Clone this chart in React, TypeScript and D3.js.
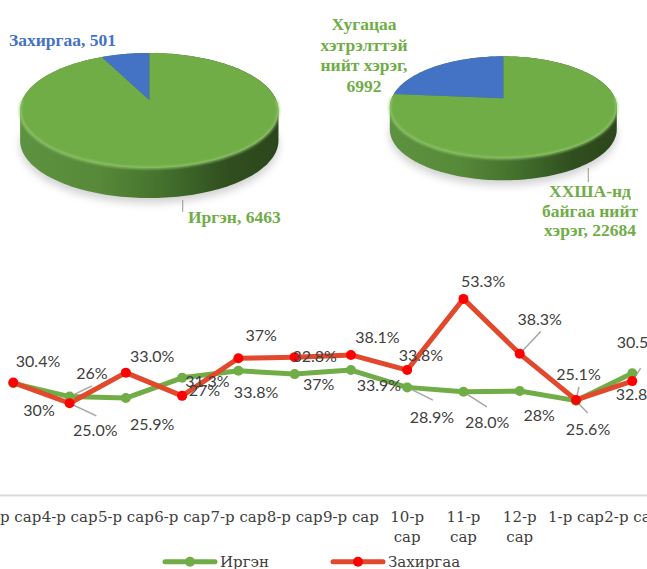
import React from 'react';
import * as d3 from 'd3';

// ---------- DATA ----------
const categories = ["3-р сар", "4-р сар", "5-р сар", "6-р сар", "7-р сар", "8-р сар", "9-р сар", "10-р сар", "11-р сар", "12-р сар", "1-р сар", "2-р сар"];
const irgenValues = [30.4, 26.8, 26.4, 31.9, 33.8, 32.9, 34.0, 29.3, 28.1, 28.3, 25.7, 33.1];
const zakhValues = [30.6, 25.0, 33.3, 27.0, 37.2, 37.5, 38.1, 34.0, 53.3, 38.4, 25.9, 31.0];
const irgenLabels = ["30%", "26%", "25.9%", "31.3%", "33.8%", "37%", "33.9%", "28.9%", "28.0%", "28%", "25.6%", "32.8%"];
const zakhLabels = ["30.4%", "25.0%", "33.0%", "27%", "37%", "32.8%", "38.1%", "33.8%", "53.3%", "38.3%", "25.1%", "30.5%"];
const seriesNames = ["Иргэн", "Захиргаа"];

const pieLeftNames = ["Иргэн", "Захиргаа"];
const pieLeftValues = [6463, 501];
const pieRightNames = ["ХХША-нд байгаа нийт хэрэг", "Хугацаа хэтрэлттэй нийт хэрэг"];
const pieRightValues = [22684, 6992];

// ---------- LAYOUT (label offsets relative to points) ----------
const irgenLabelPos: [number, number][] = [[25.7, 32.3], [22.4, -17.7], [26.3, 31.7], [25.3, 9.3], [17.7, 27.3], [24, 15.7], [28, 21], [24.7, 35.7], [23.7, 36.3], [19.5, 30], [12, 34.3], [5.7, 26.7]];
const irgenLeaders: ([number, number] | null)[] = [null, [22.4, -10.7], null, null, null, null, null, [25.7, 12.7], [23.4, 15], null, [11.7, 12.3], null];
const zakhLabelPos: [number, number][] = [[24.7, -15.7], [25.7, 32.7], [26.3, -10.7], [22.3, 0], [22.7, -17.3], [20, 4.7], [26.5, -12], [13.7, -9], [19.7, -12], [20, -29], [2.5, -20], [6.7, -33]];
const zakhLeaders: ([number, number] | null)[] = [null, [26.7, 12.7], null, null, null, null, null, null, null, [21, -22.3], [3, -13], [8.4, -13]];

const W = 647, H = 569;
const GREEN = "#70AD47";
const BLUE = "#4472C4";
const RED_LINE = "#E2482B";
const RED_MARK = "#FF0000";
const TXT = "#404040";
const LEADER = "#A6A6A6";

const x = d3.scaleBand<string>().domain(categories).range([-14.8, 660.4]).paddingInner(0).paddingOuter(0);
const cx = (c: string) => (x(c) as number) + x.bandwidth() / 2;
const y = d3.scaleLinear().domain([0, 60]).range([495.4, 274.2]);

type PieCfg = { cx: number; cy: number; R: number; Ry: number; d: number; h: number; id: string };

function projector(p: PieCfg) {
  return (theta: number, dy = 0): [number, number] => {
    const u = Math.sin(theta), w = -Math.cos(theta);
    const s = p.d / (p.d - w);
    return [p.cx + p.R * u * s, p.cy + p.Ry * w * s + dy];
  };
}

function Pie3D({ cfg, values, colors }: { cfg: PieCfg; values: number[]; colors: string[] }) {
  const proj = projector(cfg);
  const arcs = d3.pie<number>().sort(null).startAngle(0).endAngle(Math.PI * 2)(values);
  const N = 240;
  const topPts: [number, number][] = [];
  const botPts: [number, number][] = [];
  for (let i = 0; i < N; i++) {
    const t = (i / N) * Math.PI * 2;
    topPts.push(proj(t));
    botPts.push(proj(t, cfg.h));
  }
  const hull = d3.polygonHull([...topPts, ...botPts]) as [number, number][];
  const hullPath = "M" + hull.map(p => p.join(",")).join("L") + "Z";
  const slicePath = (a0: number, a1: number) => {
    const steps = Math.max(2, Math.ceil(((a1 - a0) / (Math.PI * 2)) * N));
    let s = `M${cfg.cx},${cfg.cy}`;
    for (let i = 0; i <= steps; i++) {
      const t = a0 + ((a1 - a0) * i) / steps;
      const [px, py] = proj(t);
      s += `L${px},${py}`;
    }
    return s + "Z";
  };
  let rim = "";
  for (let i = 0; i <= 120; i++) {
    const t = Math.PI / 2 + (Math.PI * i) / 120;
    const [px, py] = proj(t);
    rim += (i === 0 ? "M" : "L") + px + "," + py;
  }
  const shadowPts = botPts.map(([px, py]) => [px, py + 5]);
  const shadowPath = "M" + shadowPts.map(p => p.join(",")).join("L") + "Z";
  return (
    <g>
      <defs>
        <linearGradient id={`side-${cfg.id}`} x1="0" x2="1" y1="0" y2="0">
          <stop offset="0" stopColor="#5d9240" />
          <stop offset="0.3" stopColor="#578a38" />
          <stop offset="0.55" stopColor="#44712d" />
          <stop offset="0.8" stopColor="#304f1f" />
          <stop offset="1" stopColor="#2b461b" />
        </linearGradient>
        <filter id={`blur-${cfg.id}`} x="-20%" y="-20%" width="140%" height="140%">
          <feGaussianBlur stdDeviation="4" />
        </filter>
        <filter id={`rimblur-${cfg.id}`} x="-10%" y="-10%" width="120%" height="120%">
          <feGaussianBlur stdDeviation="1.2" />
        </filter>
      </defs>
      <path d={shadowPath} fill="#000" opacity={0.18} filter={`url(#blur-${cfg.id})`} />
      <path d={hullPath} fill={`url(#side-${cfg.id})`} />
      {arcs.map((a, i) => (
        <path key={i} d={slicePath(a.startAngle, a.endAngle)} fill={colors[i]} />
      ))}
      <path d={rim} fill="none" stroke="#9ccf78" strokeWidth={2.5} opacity={0.7} filter={`url(#rimblur-${cfg.id})`} />
    </g>
  );
}

const leftPie: PieCfg = { cx: 149.3, cy: 100, R: 127, Ry: 55.6, d: 5.47, h: 30, id: "l" };
const rightPie: PieCfg = { cx: 503.3, cy: 98.3, R: 111.7, Ry: 49.4, d: 5.67, h: 22, id: "r" };

export default function App() {
  const line = d3.line<number>().x((_, i) => cx(categories[i])).y(d => y(d));
  const pieFont = { fontFamily: "'Liberation Serif', serif", fontWeight: 700, fontSize: 17.5 } as const;
  const lblFont = { fontFamily: "Lato, sans-serif", fontSize: 16, fill: TXT } as const;
  const axisFont = { fontFamily: "'DejaVu Serif', serif", fontSize: 15, fill: TXT } as const;

  const renderLabels = (vals: number[], labels: string[], pos: [number, number][]) =>
    vals.map((v, i) => (
      <text key={i} x={cx(categories[i]) + pos[i][0]} y={y(v) + pos[i][1]} textAnchor="middle" {...lblFont}>
        {labels[i]}
      </text>
    ));
  const renderLeaders = (vals: number[], leaders: ([number, number] | null)[]) =>
    vals.map((v, i) => {
      const l = leaders[i];
      if (!l) return null;
      const px = cx(categories[i]), py = y(v);
      return <line key={i} x1={px} y1={py} x2={px + l[0]} y2={py + l[1]} stroke={LEADER} strokeWidth={1.5} />;
    });

  const rightBlueLines = ["Хугацаа", "хэтрэлттэй", "нийт хэрэг,", `${pieRightValues[1]}`];
  const rightGreenLines = ["ХХША-нд", "байгаа нийт", `хэрэг, ${pieRightValues[0]}`];

  return (
    <svg width={W} height={H} style={{ position: "absolute", left: 0, top: 0, background: "#fff" }}>
      <Pie3D cfg={leftPie} values={pieLeftValues} colors={[GREEN, BLUE]} />
      <Pie3D cfg={rightPie} values={pieRightValues} colors={[GREEN, BLUE]} />

      <text x={9} y={46} fill={BLUE} {...pieFont}>{`${pieLeftNames[1]}, ${pieLeftValues[1]}`}</text>
      <line x1={182.7} y1={200} x2={182.7} y2={211.7} stroke={LEADER} strokeWidth={1.2} />
      <text x={188} y={223} fill={GREEN} {...pieFont}>{`${pieLeftNames[0]}, ${pieLeftValues[0]}`}</text>

      <text x={364} y={30} textAnchor="middle" fill={GREEN} {...pieFont}>
        {rightBlueLines.map((l, i) => (
          <tspan key={i} x={364} dy={i === 0 ? 0 : 20.5}>{l}</tspan>
        ))}
      </text>
      <line x1={588.3} y1={168} x2={588.3} y2={182} stroke={LEADER} strokeWidth={1.2} />
      <text x={590} y={197} textAnchor="middle" fill={GREEN} {...pieFont}>
        {rightGreenLines.map((l, i) => (
          <tspan key={i} x={590} dy={i === 0 ? 0 : 19.5}>{l}</tspan>
        ))}
      </text>

      <line x1={0} x2={W} y1={y(0)} y2={y(0)} stroke="#D9D9D9" strokeWidth={2} />

      {categories.map((c, i) => {
        const lines = c.length > 7 ? c.split(" ") : [c];
        return (
          <text key={i} x={cx(c)} y={522} textAnchor="middle" {...axisFont}>
            {lines.map((l, j) => (
              <tspan key={j} x={cx(c)} dy={j === 0 ? 0 : 20}>{l}</tspan>
            ))}
          </text>
        );
      })}

      <path d={line(irgenValues) || ""} fill="none" stroke={GREEN} strokeWidth={5} strokeLinejoin="round" strokeLinecap="round" />
      <path d={line(zakhValues) || ""} fill="none" stroke={RED_LINE} strokeWidth={5} strokeLinejoin="round" strokeLinecap="round" />

      {renderLeaders(irgenValues, irgenLeaders)}
      {renderLeaders(zakhValues, zakhLeaders)}

      {irgenValues.map((v, i) => (
        <circle key={"g" + i} cx={cx(categories[i])} cy={y(v)} r={5} fill={GREEN} />
      ))}
      {zakhValues.map((v, i) => (
        <circle key={"r" + i} cx={cx(categories[i])} cy={y(v)} r={5} fill={RED_MARK} />
      ))}

      {renderLabels(irgenValues, irgenLabels, irgenLabelPos)}
      {renderLabels(zakhValues, zakhLabels, zakhLabelPos)}

      <line x1={165} x2={215} y1={561.7} y2={561.7} stroke={GREEN} strokeWidth={5} strokeLinecap="round" />
      <circle cx={190} cy={561.7} r={5} fill={GREEN} />
      <text x={220} y={567} fontFamily="'DejaVu Serif', serif" fontSize={15} fill={TXT}>{seriesNames[0]}</text>
      <line x1={333} x2={383} y1={561.7} y2={561.7} stroke={RED_LINE} strokeWidth={5} strokeLinecap="round" />
      <circle cx={358} cy={561.7} r={5} fill={RED_MARK} />
      <text x={388} y={567} fontFamily="'DejaVu Serif', serif" fontSize={15} fill={TXT}>{seriesNames[1]}</text>
    </svg>
  );
}
